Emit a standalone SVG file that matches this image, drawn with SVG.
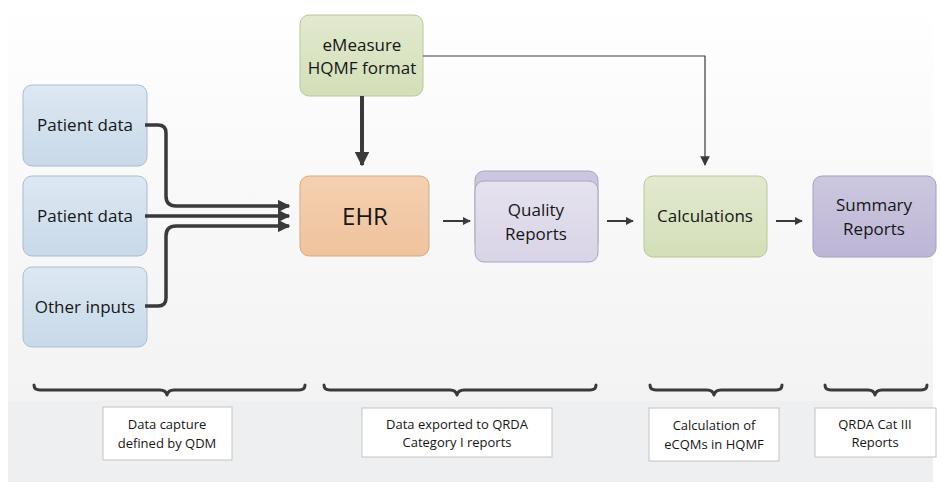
<svg xmlns="http://www.w3.org/2000/svg" width="941" height="482" viewBox="0 0 941 482">
<defs>
<linearGradient id="bg" x1="0" y1="0" x2="0" y2="1">
<stop offset="0" stop-color="#ffffff"/>
<stop offset="0.35" stop-color="#fafafa"/>
<stop offset="1" stop-color="#f3f3f3"/>
</linearGradient>
<linearGradient id="gBlue" x1="0" y1="0" x2="0" y2="1">
<stop offset="0" stop-color="#dde8f2"/>
<stop offset="1" stop-color="#c8d9e9"/>
</linearGradient>
<linearGradient id="gGreen" x1="0" y1="0" x2="0" y2="1">
<stop offset="0" stop-color="#e2e9cf"/>
<stop offset="1" stop-color="#d3dfb8"/>
</linearGradient>
<linearGradient id="gOrange" x1="0" y1="0" x2="0" y2="1">
<stop offset="0" stop-color="#f5d0b0"/>
<stop offset="1" stop-color="#efc39d"/>
</linearGradient>
<linearGradient id="gPurple" x1="0" y1="0" x2="0" y2="1">
<stop offset="0" stop-color="#cdc8e0"/>
<stop offset="1" stop-color="#bcb5d5"/>
</linearGradient>
<linearGradient id="gLilac" x1="0" y1="0" x2="0" y2="1">
<stop offset="0" stop-color="#e6e3ef"/>
<stop offset="1" stop-color="#d8d3e6"/>
</linearGradient>
<marker id="ahBig" viewBox="0 0 10 10" refX="9" refY="5" markerWidth="3.6" markerHeight="3.6" orient="auto" markerUnits="strokeWidth">
<path d="M0,0 L10,5 L0,10 z" fill="#3a3a3a"/>
</marker>
<marker id="ahSmall" viewBox="0 0 10 10" refX="9" refY="5" markerWidth="4" markerHeight="4" orient="auto" markerUnits="strokeWidth">
<path d="M0,0 L10,5 L0,10 z" fill="#3a3a3a"/>
</marker>
<marker id="ahThin" viewBox="0 0 10 10" refX="9" refY="5" markerWidth="8" markerHeight="8" orient="auto" markerUnits="strokeWidth">
<path d="M0,0 L10,5 L0,10 z" fill="#3a3a3a"/>
</marker>
</defs>
<style>
text { font-family: "Open Sans", "Liberation Sans", sans-serif; fill: #161616; text-anchor: middle; }
.n { font-size: 17px; }
.lbl { font-size: 13px; }
.box { stroke-width: 1; }
.blue { fill: url(#gBlue); stroke: #a8bdd0; }
.green { fill: url(#gGreen); stroke: #b9c79c; }
.orange { fill: url(#gOrange); stroke: #d9a983; }
.purple { fill: url(#gPurple); stroke: #a59ec3; }
.lilac { fill: url(#gLilac); stroke: #aaa3c6; }
.lbox { fill: #ffffff; stroke: #c4c4c4; stroke-width: 1; }
.conn { fill: none; stroke: #3a3a3a; stroke-linecap: butt; stroke-linejoin: round; }
.brace { fill: none; stroke: #3a3a3a; stroke-width: 3; stroke-linecap: round; stroke-linejoin: round; }
</style>

<rect x="0" y="0" width="941" height="482" fill="#ffffff"/>
<rect x="8" y="0" width="925" height="401" fill="url(#bg)"/>
<rect x="8" y="401" width="925" height="81" fill="#eeeff0"/>

<g id="patient1">
<rect class="box blue" x="23" y="85" width="124" height="81" rx="9"/>
<text class="n" x="85" y="131">Patient data</text>
</g>
<g id="patient2">
<rect class="box blue" x="23" y="176" width="124" height="80" rx="9"/>
<text class="n" x="85" y="222">Patient data</text>
</g>
<g id="other">
<rect class="box blue" x="23" y="267" width="124" height="80" rx="9"/>
<text class="n" x="85" y="313">Other inputs</text>
</g>
<g id="emeasure">
<rect class="box green" x="300" y="15" width="123" height="81" rx="9"/>
<text class="n" x="362" y="51">eMeasure</text>
<text class="n" x="362" y="74">HQMF format</text>
</g>
<g id="ehr">
<rect class="box orange" x="300" y="176" width="129" height="80" rx="9"/>
<text x="365" y="225" style="font-size:24px">EHR</text>
</g>
<g id="quality">
<rect class="box lilac" x="475" y="171" width="123" height="80" rx="9" style="fill:#ccc7de"/>
<rect class="box lilac" x="475" y="181" width="123" height="81" rx="9"/>
<text class="n" x="536" y="216">Quality</text>
<text class="n" x="536" y="240">Reports</text>
</g>
<g id="calculations">
<rect class="box green" x="644" y="176" width="123" height="81" rx="9"/>
<text class="n" x="705" y="222">Calculations</text>
</g>
<g id="summary">
<rect class="box purple" x="813" y="176" width="123" height="81" rx="9"/>
<text class="n" x="874" y="211">Summary</text>
<text class="n" x="874" y="235">Reports</text>
</g>

<g id="connectors">
<path class="conn" stroke-width="3.5" marker-end="url(#ahBig)" d="M145,125 H158 Q166,125 166,133 V196 Q166,206 176,206 H289"/>
<path class="conn" stroke-width="3.5" marker-end="url(#ahBig)" d="M145,216 H289"/>
<path class="conn" stroke-width="3.5" marker-end="url(#ahBig)" d="M145,306 H158 Q166,306 166,298 V236 Q166,226 176,226 H289"/>
<path class="conn" stroke-width="4" marker-end="url(#ahBig)" d="M362,96 V165"/>
<path class="conn" stroke-width="1.2" marker-end="url(#ahThin)" d="M423,56 H705 V165"/>
<path class="conn" stroke-width="2" marker-end="url(#ahSmall)" d="M443,221 H470"/>
<path class="conn" stroke-width="2" marker-end="url(#ahSmall)" d="M607,221 H633"/>
<path class="conn" stroke-width="2" marker-end="url(#ahSmall)" d="M776,221 H802"/>
</g>

<g id="braces">
<path class="brace" d="M34,385 Q34,390 40,390 H160 Q166,390 167,395 Q168,390 174,390 H299 Q305,390 305,385"/>
<path class="brace" d="M324,385 Q324,390 330,390 H450 Q456,390 457,395 Q458,390 464,390 H590 Q596,390 596,385"/>
<path class="brace" d="M650,385 Q650,390 656,390 H707 Q713,390 714,395 Q715,390 721,390 H776 Q782,390 782,385"/>
<path class="brace" d="M825,385 Q825,390 831,390 H868 Q874,390 875,395 Q876,390 882,390 H921 Q927,390 927,385"/>
</g>

<g id="label1">
<rect class="lbox" x="103" y="407" width="129" height="53"/>
<text class="lbl" x="167" y="429">Data capture</text>
<text class="lbl" x="167" y="448">defined by QDM</text>
</g>
<g id="label2">
<rect class="lbox" x="362" y="408" width="190" height="49"/>
<text class="lbl" x="457" y="429">Data exported to QRDA</text>
<text class="lbl" x="457" y="447">Category I reports</text>
</g>
<g id="label3">
<rect class="lbox" x="649" y="408" width="130" height="53"/>
<text class="lbl" x="714" y="430">Calculation of</text>
<text class="lbl" x="714" y="449">eCQMs in HQMF</text>
</g>
<g id="label4">
<rect class="lbox" x="815" y="408" width="121" height="49"/>
<text class="lbl" x="875" y="429">QRDA Cat III</text>
<text class="lbl" x="875" y="447">Reports</text>
</g>
</svg>
